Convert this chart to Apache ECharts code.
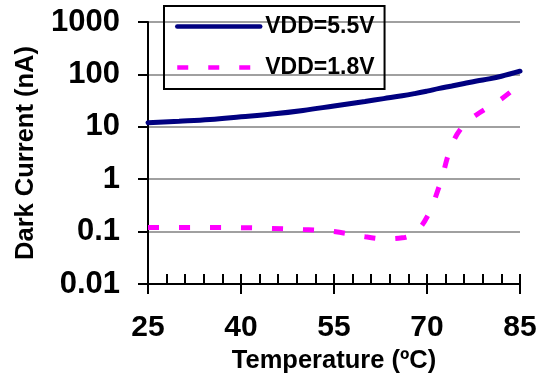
<!DOCTYPE html>
<html>
<head>
<meta charset="utf-8">
<script src="https://cdn.jsdelivr.net/npm/echarts@6/dist/echarts.min.js"></script>
<style>
  html, body { margin: 0; padding: 0; background: #fff; }
  #chart { width: 544px; height: 379px; }
</style>
</head>
<body>
<div id="chart"></div>
<script>
// Dark current vs. temperature for two supply voltages
const temperatures = [25, 30, 35, 40, 45, 50, 55, 60, 63, 66, 68, 70, 72, 74, 76, 78, 80, 82, 85];
const current55V = [12, 12.8, 13.8, 15.5, 17.5, 20.5, 25, 30.5, 34.5, 39, 43, 48, 54, 60, 67, 75, 82, 92, 115];
const current18V = [0.12, 0.12, 0.12, 0.119, 0.115, 0.11, 0.1, 0.08, 0.073, 0.076, 0.095, 0.19, 0.75, 4.5, 11, 17, 24, 34, 65];
const seriesNames = ['VDD=5.5V', 'VDD=1.8V'];
const xTicks = [25, 40, 55, 70, 85];
const yTicks = [0.01, 0.1, 1, 10, 100, 1000];

const FONT = '"Liberation Sans", Arial, sans-serif';
const chart = echarts.init(document.getElementById('chart'));

const pairs = (ys) => temperatures.map((t, i) => [t, ys[i]]);

const xBase = {
  type: 'value',
  min: xTicks[0],
  max: xTicks[xTicks.length - 1],
  interval: 15,
  position: 'bottom',
  axisLine: { show: true, lineStyle: { color: '#000', width: 2 } },
  splitLine: { show: false }
};

chart.setOption({
  animation: false,
  backgroundColor: '#fff',
  grid: { left: 148, right: 24, top: 22, bottom: 91 },
  legend: {
    orient: 'vertical',
    left: 164,
    top: 6,
    padding: [9, 10, 10, 11],
    borderColor: '#000',
    borderWidth: 2,
    itemWidth: 83,
    itemHeight: 20,
    itemGap: 18,
    data: seriesNames,
    itemStyle: { opacity: 0 },
    lineStyle: { width: 4.5 },
    textStyle: { fontFamily: FONT, fontWeight: 'bold', fontSize: 23, color: '#000' }
  },
  xAxis: [
    Object.assign({}, xBase, {
      name: 'Temperature (ºC)',
      nameLocation: 'middle',
      nameGap: 64,
      nameTextStyle: { fontFamily: FONT, fontWeight: 'bold', fontSize: 25.5, color: '#000' },
      axisTick: { show: true, inside: false, length: 10, lineStyle: { color: '#000', width: 2 } },
      axisLabel: {
        margin: 29,
        fontFamily: FONT, fontWeight: 'bold', fontSize: 30, color: '#000',
        formatter: (v) => String(v)
      }
    }),
    Object.assign({}, xBase, {
      axisTick: { show: true, inside: true, length: 10, lineStyle: { color: '#000', width: 2 } },
      minorTick: { show: true, splitNumber: 5, length: 10, lineStyle: { color: '#000', width: 2 } },
      axisLabel: { show: false }
    })
  ],
  yAxis: {
    type: 'log',
    logBase: 10,
    min: yTicks[0],
    max: yTicks[yTicks.length - 1],
    name: 'Dark Current (nA)',
    nameLocation: 'middle',
    nameGap: 109,
    nameTextStyle: { fontFamily: FONT, fontWeight: 'bold', fontSize: 25.5, color: '#000' },
    axisLine: { show: true, lineStyle: { color: '#000', width: 2 } },
    axisTick: { show: true, inside: false, length: 10, lineStyle: { color: '#000', width: 2 } },
    axisLabel: {
      margin: 28,
      fontFamily: FONT, fontWeight: 'bold', fontSize: 31, color: '#000',
      formatter: (v) => {
        const match = yTicks.find((t) => Math.abs(Math.log10(t) - Math.log10(v)) < 1e-6);
        return match !== undefined ? String(match) : '';
      }
    },
    splitLine: { show: true, lineStyle: { color: '#a0a0a0', width: 2 } }
  },
  series: [
    {
      name: seriesNames[0],
      type: 'line',
      xAxisIndex: 0,
      data: pairs(current55V),
      smooth: 0.4,
      symbol: 'none',
      lineStyle: { color: '#000080', width: 5, cap: 'round' },
      itemStyle: { color: '#000080' },
      z: 3
    },
    {
      name: seriesNames[1],
      type: 'line',
      xAxisIndex: 0,
      data: pairs(current18V),
      smooth: 0.4,
      symbol: 'none',
      lineStyle: { color: '#ff00ff', width: 5, type: [11, 20], cap: 'butt' },
      itemStyle: { color: '#ff00ff' },
      z: 2
    }
  ]
});
</script>
</body>
</html>
